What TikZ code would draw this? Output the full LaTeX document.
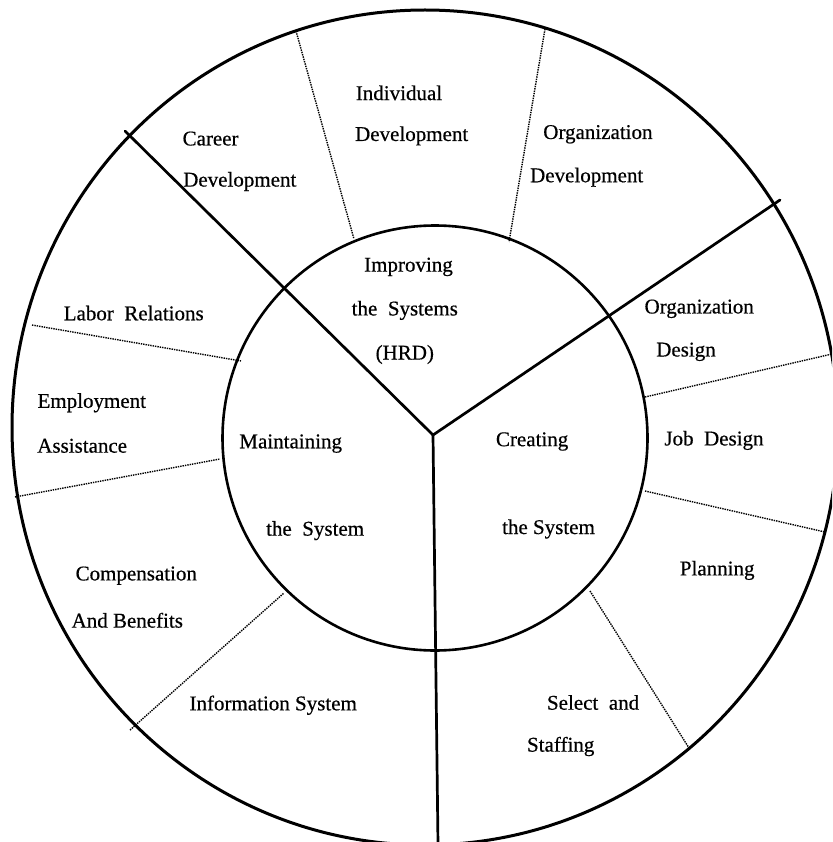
\documentclass[tikz,border=0pt]{standalone}
\usepackage{fontspec}
\setmainfont{Liberation Serif}
\newfontfamily\lblfont{Liberation Serif}[FakeBold=0.5]
\usetikzlibrary{shapes.geometric}
\newcommand{\wsp}{\hspace{0.5em}}
\begin{document}
\begin{tikzpicture}[x=1pt,y=-1pt,
  lbl/.style={inner sep=0pt, font=\lblfont\fontsize{21}{25}\selectfont},
  solidline/.style={line width=2.7pt, line cap=round},
  dotline/.style={line width=1.4pt, dash pattern=on 1.4pt off 1pt},
  ring/.style={draw, line width=3pt, inner sep=0pt}]
\clip (0,0) rectangle (832,842);
\fill[white] (0,0) rectangle (832,842);

% rings
\node[ring, ellipse, minimum width=826pt, minimum height=835pt] (outer) at (425,427.5) {};
\node[ring, circle, line width=2.6pt, minimum size=425pt] (inner) at (435,438) {};

% main dividers
\coordinate (J) at (433,435);
\coordinate (nw) at (125,131);
\coordinate (ne) at (780,200);
\coordinate (s) at (438,845);
\draw[solidline] (J) -- (nw);
\draw[solidline] (J) -- (ne);
\draw[solidline] (J) -- (s);

% dotted dividers
\coordinate (d1a) at (296,31);  \coordinate (d1b) at (354,239);
\coordinate (d2a) at (545,29);  \coordinate (d2b) at (509,242);
\coordinate (d3a) at (32,325);  \coordinate (d3b) at (241,361);
\coordinate (d4a) at (15,497);  \coordinate (d4b) at (220,459);
\coordinate (d5a) at (130,730); \coordinate (d5b) at (284,593);
\coordinate (d6a) at (645,397); \coordinate (d6b) at (832,354);
\coordinate (d7a) at (645,491); \coordinate (d7b) at (825,532);
\coordinate (d8a) at (590,591); \coordinate (d8b) at (689,748);
\foreach \k in {1,...,8} {\draw[dotline] (d\k a) -- (d\k b);}

% labels
\node[lbl] (career1) at (210.6,138.6) {Career};
\node[lbl] (career2) at (239.8,181.5) {Development};
\node[lbl] (indiv1) at (399,92.9) {Individual};
\node[lbl] (indiv2) at (411.7,135.9) {Development};
\node[lbl] (orgdev1) at (597.9,134.3) {Organization};
\node[lbl] (orgdev2) at (586.7,177.2) {Development};
\node[lbl] (impr1) at (408.5,266.9) {Improving};
\node[lbl] (impr2) at (404.8,310.4) {the\wsp Systems};
\node[lbl] (impr3) at (404.8,354.5) {(HRD)};
\node[lbl] (labor) at (133.7,313.1) {Labor\wsp Relations};
\node[lbl] (orgdes1) at (699.2,308.8) {Organization};
\node[lbl] (orgdes2) at (686,351.8) {Design};
\node[lbl] (empl1) at (91.8,402.8) {Employment};
\node[lbl] (empl2) at (82.2,445.8) {Assistance};
\node[lbl] (maint1) at (290.7,443.6) {Maintaining};
\node[lbl] (maint2) at (315.1,530.6) {the\wsp System};
\node[lbl] (creat1) at (532.1,441.5) {Creating};
\node[lbl] (creat2) at (548.5,529) {the System};
\node[lbl] (job) at (714,440.4) {Job\wsp Design};
\node[lbl] (comp1) at (136.3,575.7) {Compensation};
\node[lbl] (comp2) at (127.3,620.3) {And Benefits};
\node[lbl] (plan) at (717.2,570.4) {Planning};
\node[lbl] (info) at (273.2,705.2) {Information System};
\node[lbl] (sel1) at (593.1,702.5) {Select\wsp and};
\node[lbl] (sel2) at (560.7,746.5) {Staffing};
\end{tikzpicture}
\end{document}
